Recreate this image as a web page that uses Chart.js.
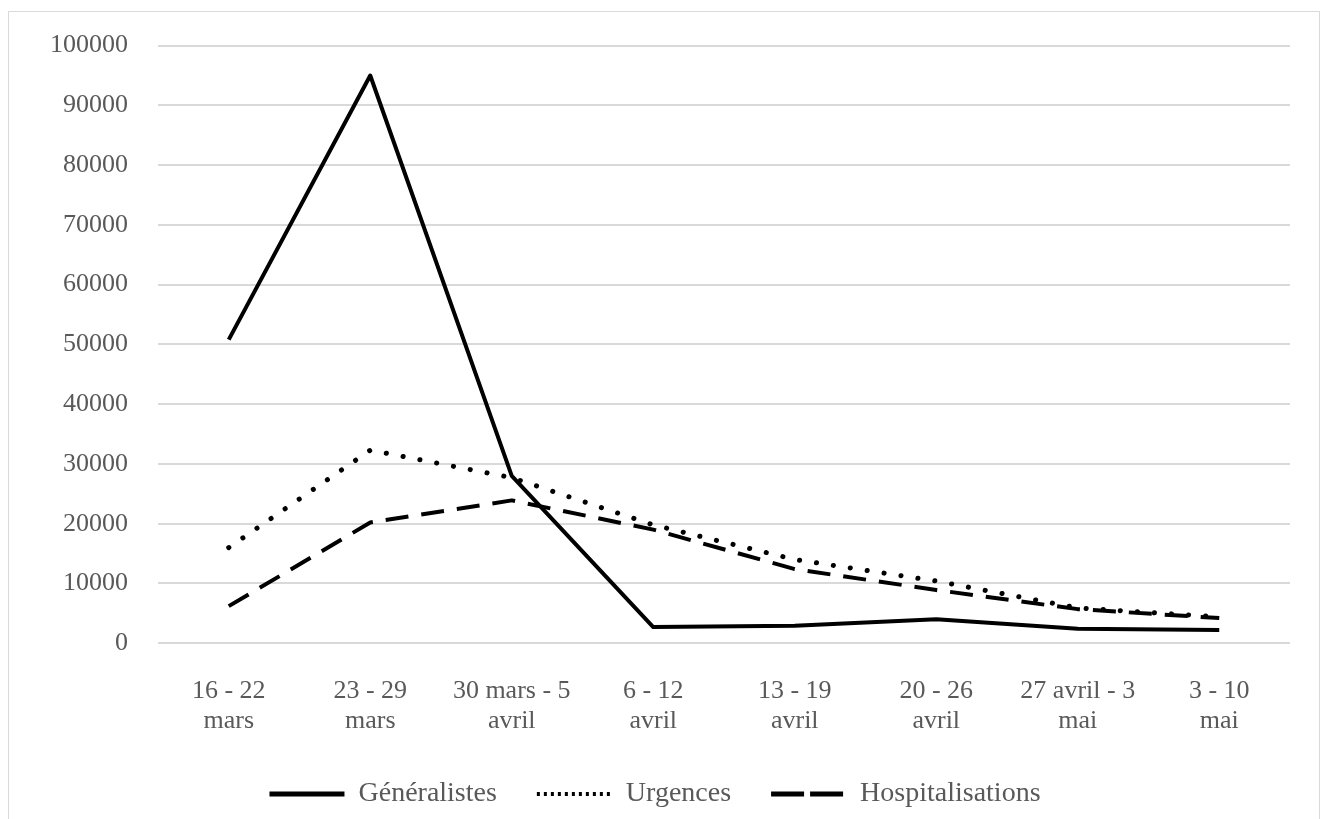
<!DOCTYPE html>
<html lang="fr">
<head>
<meta charset="utf-8" />
<title>Consultations</title>
<script src="https://cdn.jsdelivr.net/npm/chart.js@4.4.1/dist/chart.umd.min.js"></script>
<style>
  html, body { margin: 0; padding: 0; background: #fff; }
  .frame {
    position: absolute;
    left: 8px;
    top: 11px;
    width: 1312px;
    height: 820px;
    border: 1px solid #d9d9d9;
    box-sizing: border-box;
  }
  .chart-box { position: absolute; left: 0; top: 0; width: 1323px; height: 819px; }
</style>
</head>
<body>
<div class="frame"></div>
<div class="chart-box"><canvas id="chart"></canvas></div>
<script>
const weeks = [
  ['16 - 22', 'mars'],
  ['23 - 29', 'mars'],
  ['30 mars - 5', 'avril'],
  ['6 - 12', 'avril'],
  ['13 - 19', 'avril'],
  ['20 - 26', 'avril'],
  ['27 avril - 3', 'mai'],
  ['3 - 10', 'mai']
];
const generalistes = [50800, 95000, 28000, 2700, 2900, 4000, 2400, 2200];
const urgences = [16000, 32300, 27700, 19800, 14000, 10400, 5900, 4400];
const hospitalisations = [6200, 20200, 23900, 19000, 12400, 8900, 5700, 4200];
const yTicks = [0, 10000, 20000, 30000, 40000, 50000, 60000, 70000, 80000, 90000, 100000];

const textColor = '#595959';
const gridColor = '#d9d9d9';
const fontFamily = '"Liberation Serif", "DejaVu Serif", serif';

function makeSeries(label, values, dash, width, cap) {
  return {
    label,
    data: values,
    borderColor: '#000',
    backgroundColor: '#000',
    borderWidth: width,
    borderDash: dash,
    borderCapStyle: cap,
    borderJoinStyle: 'round',
    pointRadius: 0,
    pointHoverRadius: 0,
    tension: 0,
    fill: false
  };
}

// shrink the legend block so the plot gets the extra height,
// and draw its items a bit higher
const legendFit = {
  id: 'legendFit',
  beforeInit(chart) {
    const legend = chart.legend;
    if (!legend) return;
    const fit = legend.fit;
    const draw = legend.draw;
    legend.fit = function () {
      fit.call(this);
      this.height -= 28;
    };
    legend.draw = function () {
      const top = this.top;
      this.top -= 29;
      draw.call(this);
      this.top = top;
    };
  }
};

function init() {
  const ctx = document.getElementById('chart').getContext('2d');
  new Chart(ctx, {
    type: 'line',
    data: {
      labels: weeks,
      datasets: [
        makeSeries('Généralistes', generalistes, [], 4, 'butt'),
        makeSeries('Urgences', urgences, [0.1, 17], 5, 'round'),
        makeSeries('Hospitalisations', hospitalisations, [23, 13], 4, 'butt')
      ]
    },
    plugins: [legendFit],
    options: {
      responsive: true,
      maintainAspectRatio: false,
      animation: false,
      layout: { padding: { left: 20, right: 33, top: 34, bottom: 0 } },
      plugins: {
        tooltip: { enabled: false },
        legend: {
          position: 'bottom',
          labels: {
            color: textColor,
            font: { family: fontFamily, size: 28 },
            boxWidth: 75,
            boxHeight: 0,
            padding: 40,
            generateLabels(chart) {
              return chart.data.datasets.map((ds, i) => ({
                text: ds.label,
                fillStyle: 'rgba(0,0,0,0)',
                strokeStyle: '#000',
                lineWidth: i === 1 ? 4 : 5,
                lineDash: i === 1 ? [3, 4] : (i === 2 ? [26, 13] : []),
                lineCap: 'butt',
                fontColor: textColor,
                hidden: false,
                datasetIndex: i
              }));
            }
          }
        }
      },
      scales: {
        x: {
          offset: true,
          grid: { display: false, drawTicks: false },
          border: { display: false },
          ticks: {
            color: textColor,
            font: { family: fontFamily, size: 26, lineHeight: 1.15 },
            padding: 33,
            maxRotation: 0,
            autoSkip: false
          }
        },
        y: {
          min: 0,
          max: 100000,
          afterBuildTicks(axis) {
            axis.ticks = yTicks.map(v => ({ value: v }));
          },
          afterFit(axis) {
            axis.width = 138;
          },
          grid: { color: gridColor, lineWidth: 2, drawTicks: false },
          border: { display: false },
          ticks: {
            color: textColor,
            font: { family: fontFamily, size: 26 },
            padding: 30,
            callback: value => String(value)
          }
        }
      }
    }
  });
}

window.addEventListener('DOMContentLoaded', init);
</script>
</body>
</html>
